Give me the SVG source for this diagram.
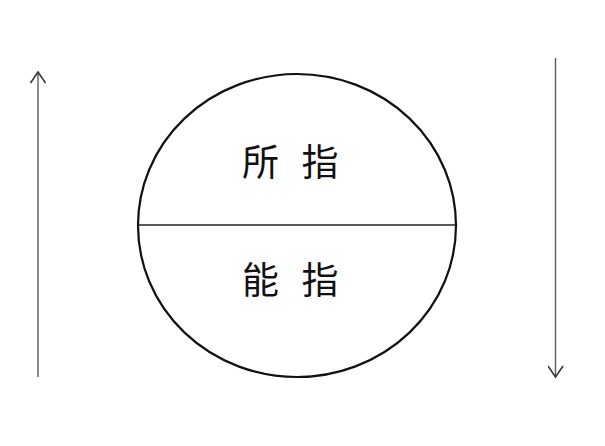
<svg xmlns="http://www.w3.org/2000/svg" width="605" height="446" viewBox="0 0 605 446">
<style>
.arrow{stroke:#5a5a5a;stroke-width:1.4;fill:none}
.circ{stroke:#111;stroke-width:2.2;fill:none}
.div{stroke:#222;stroke-width:1.5}
.lbl{font-family:"Noto Sans CJK SC","Noto Sans CJK JP",sans-serif;font-size:37px;fill:#111;text-anchor:middle}
</style>
<defs>
<marker id="head" viewBox="-12 -8 14 16" refX="0" refY="0" markerWidth="14" markerHeight="16" markerUnits="userSpaceOnUse" orient="auto">
<path d="M-11,-7.5 L0,0 L-11,7.5" fill="none" stroke="#3a3a3a" stroke-width="1.6"/>
</marker>
</defs>
<rect width="605" height="446" fill="#fff"/>
<g id="connectors">
<line class="arrow" x1="38" y1="377" x2="38" y2="72" marker-end="url(#head)"/>
<line class="arrow" x1="555.5" y1="58" x2="555.5" y2="377" marker-end="url(#head)"/>
</g>
<g id="circle">
<ellipse class="circ" cx="297" cy="225.5" rx="159" ry="151.5"/>
<line class="div" x1="138" y1="225" x2="456" y2="225"/>
</g>
<g id="signified">
<text class="lbl" x="260.5" y="176">所</text>
<text class="lbl" x="320" y="176">指</text>
</g>
<g id="signifier">
<text class="lbl" x="260.5" y="294">能</text>
<text class="lbl" x="320" y="294">指</text>
</g>
</svg>
